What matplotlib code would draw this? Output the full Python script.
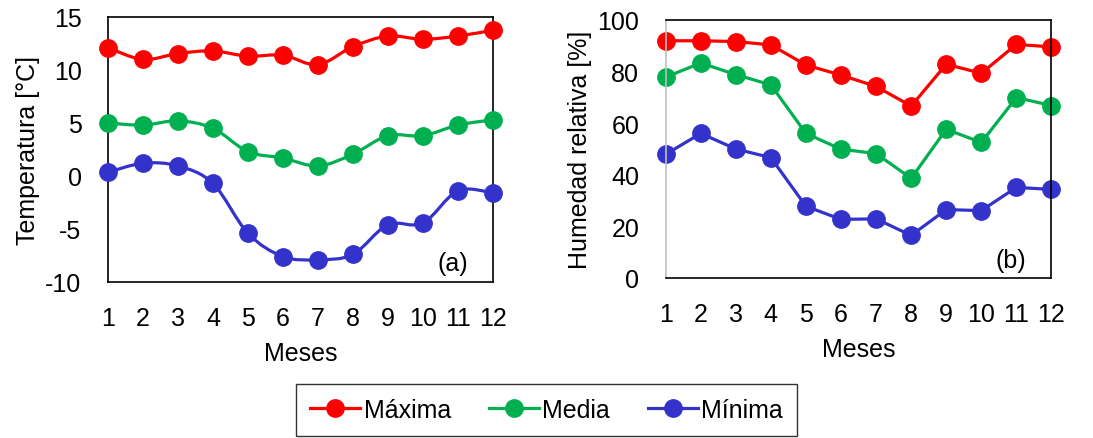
import numpy as np
import matplotlib
matplotlib.use("Agg")
import matplotlib.pyplot as plt
from matplotlib.path import Path
from matplotlib.patches import PathPatch

plt.rcParams['font.family'] = ['Liberation Sans', 'DejaVu Sans']
plt.rcParams['axes.unicode_minus'] = False

meses = [1, 2, 3, 4, 5, 6, 7, 8, 9, 10, 11, 12]

# temperatura [°C]
t_max = [12.1, 11.0, 11.55, 11.8, 11.3, 11.4, 10.5, 12.2, 13.2, 12.9, 13.2, 13.75]
t_med = [5.0, 4.8, 5.2, 4.5, 2.3, 1.7, 0.95, 2.05, 3.8, 3.8, 4.8, 5.3]
t_min = [0.35, 1.2, 0.95, -0.7, -5.4, -7.6, -7.9, -7.4, -4.6, -4.45, -1.4, -1.6]

# humedad relativa [%]
h_max = [91.9, 91.9, 91.6, 90.3, 82.5, 78.6, 74.2, 66.6, 82.8, 79.3, 90.5, 89.5]
h_med = [77.8, 83.3, 78.8, 74.8, 56.0, 49.9, 48.2, 38.6, 57.6, 52.5, 69.9, 66.8]
h_min = [47.9, 56.0, 50.0, 46.6, 27.8, 22.7, 22.9, 16.5, 26.5, 26.1, 35.1, 34.3]

rojo = '#FF0000'
verde = '#00B050'
azul = '#3333CC'
nombres = ['Máxima', 'Media', 'Mínima']
fs = 18
ms = 12.5


def linea_suave(ax, x, y, color):
    # curva suavizada tipo Excel (Bezier cúbica entre puntos)
    x = np.asarray(x, float)
    y = np.asarray(y, float)
    n = len(x)
    verts = [(x[0], y[0])]
    codes = [Path.MOVETO]
    for i in range(n - 1):
        x0, y0 = (x[i - 1], y[i - 1]) if i > 0 else (x[i], y[i])
        x3, y3 = (x[i + 2], y[i + 2]) if i + 2 < n else (x[i + 1], y[i + 1])
        c1 = (x[i] + (x[i + 1] - x0) / 6, y[i] + (y[i + 1] - y0) / 6)
        c2 = (x[i + 1] - (x3 - x[i]) / 6, y[i + 1] - (y3 - y[i]) / 6)
        verts += [c1, c2, (x[i + 1], y[i + 1])]
        codes += [Path.CURVE4] * 3
    ax.add_patch(PathPatch(Path(verts, codes), facecolor='none', edgecolor=color,
                           lw=2.3, capstyle='round', joinstyle='round', zorder=2))
    ax.plot(x, y, 'o', color=color, markersize=ms, zorder=3, clip_on=False)


fig = plt.figure(figsize=(10.93, 4.39), dpi=100)
ax1 = fig.add_axes([0.0988, 0.3554, 0.352, 0.6036])
ax2 = fig.add_axes([0.609, 0.3645, 0.353, 0.588])

for serie, c in zip([t_max, t_med, t_min], [rojo, verde, azul]):
    linea_suave(ax1, meses, serie, c)
ax1.set_ylim(-10, 15)
ax1.set_yticks(range(-10, 16, 5))
ax1.set_ylabel('Temperatura [°C]', fontsize=fs, labelpad=4)
ax1.text(0.935, 0.07, '(a)', transform=ax1.transAxes, fontsize=fs,
         ha='right', va='center')

lineas = []
for serie, c, nom in zip([h_max, h_med, h_min], [rojo, verde, azul], nombres):
    l, = ax2.plot(meses, serie, '-o', color=c, lw=2.3, markersize=ms, label=nom,
                  solid_joinstyle='round', clip_on=False)
    lineas.append(l)
ax2.set_ylim(0, 100)
ax2.set_yticks(range(0, 101, 20))
ax2.set_ylabel('Humedad relativa [%]', fontsize=fs, labelpad=4)
ax2.text(0.935, 0.07, '(b)', transform=ax2.transAxes, fontsize=fs,
         ha='right', va='center')
ax2.spines['left'].set_color('#BFBFBF')

for ax in (ax1, ax2):
    ax.set_xlim(1, 12)
    ax.set_xticks(meses)
    ax.set_xlabel('Meses', fontsize=fs, labelpad=8)
    ax.tick_params(length=0, labelsize=fs)
    ax.tick_params(axis='x', pad=17)
    ax.tick_params(axis='y', pad=19)
    for s in ax.spines.values():
        s.set_linewidth(1.2)
for s in ['top', 'right', 'bottom']:
    ax2.spines[s].set_color('black')

fig.legend(lineas, nombres, loc='lower center', bbox_to_anchor=(0.5, 0.0),
           ncol=3, fontsize=fs, frameon=True, fancybox=False, edgecolor='black',
           handlelength=2.0, handletextpad=0.15, columnspacing=1.5,
           borderpad=0.55, borderaxespad=0.1)

fig.savefig('out.png', dpi=100)
